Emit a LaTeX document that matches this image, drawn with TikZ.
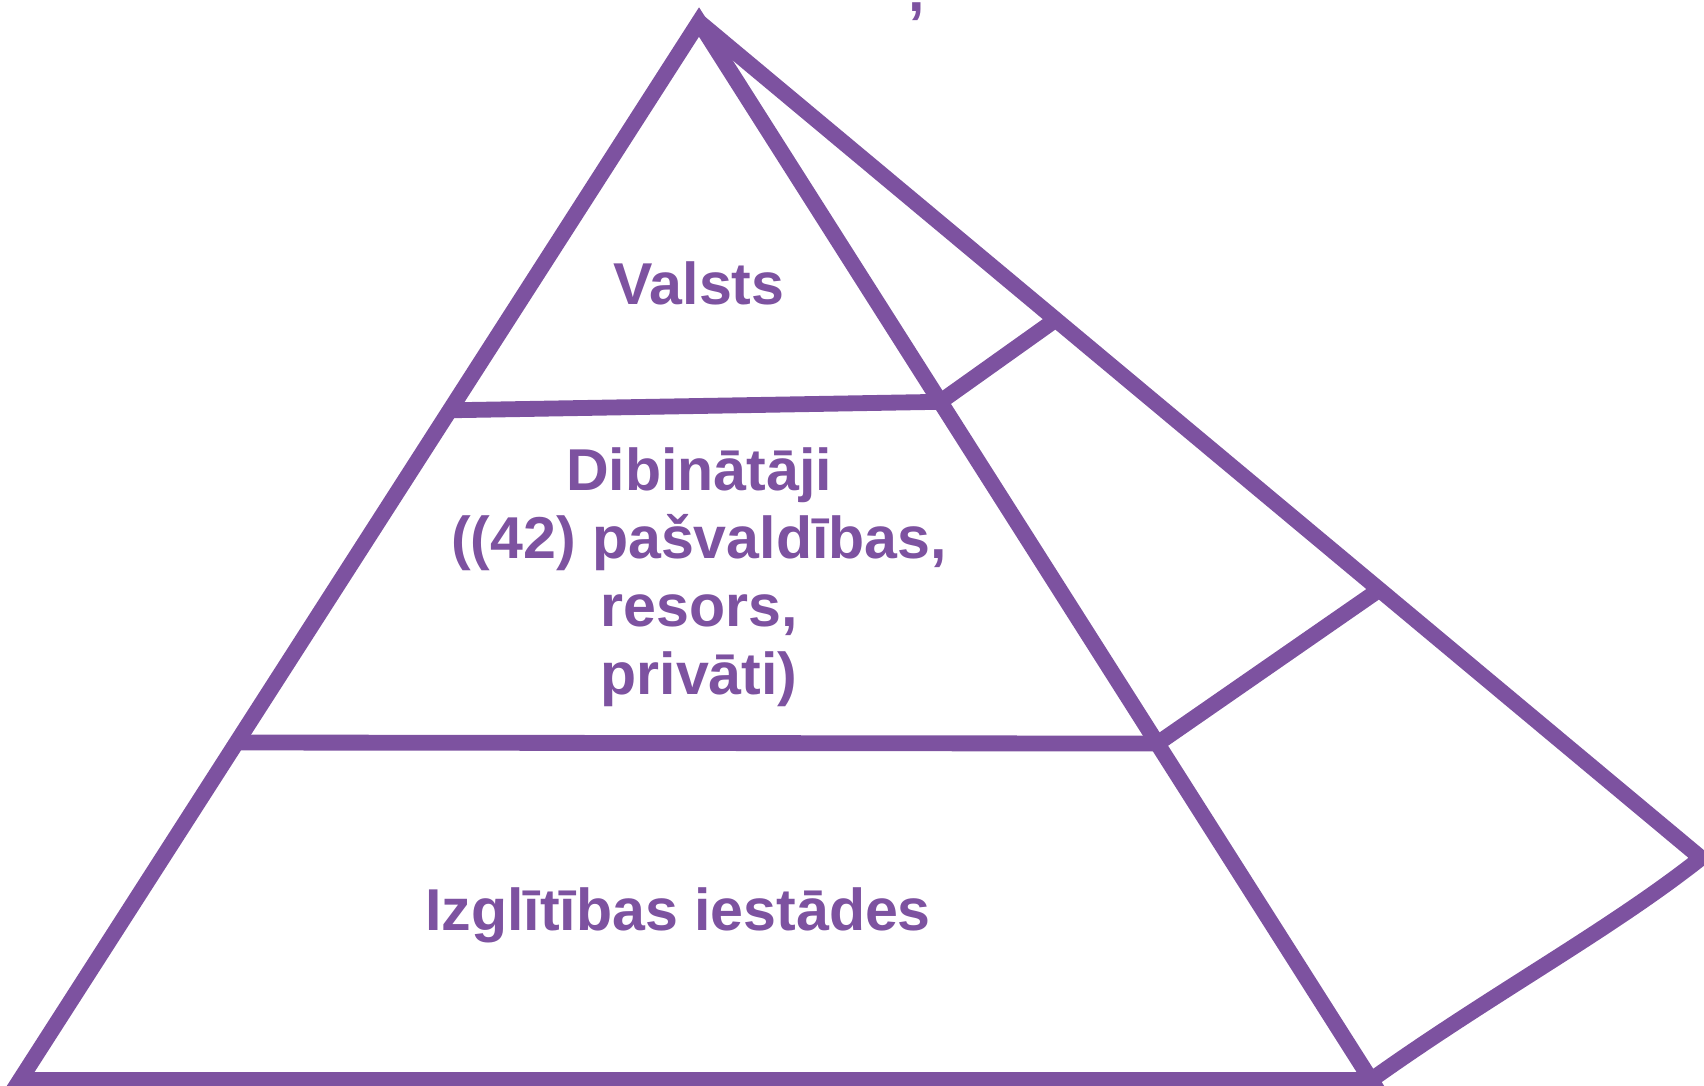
\documentclass[tikz,border=0pt]{standalone}
\usepackage{fontspec}
\setmainfont{Liberation Sans}
\usetikzlibrary{calc}
\definecolor{pyrpurple}{RGB}{125,82,160}
\tikzstyle{side} = [line width = 4.5pt, draw = pyrpurple, line join = miter]
\tikzstyle{tiertext} = [text = pyrpurple, inner sep = 0pt, align = center, font = \fontsize{16.8}{19.3}\selectfont\bfseries]

\begin{document}
\begin{tikzpicture}[x = 0.01cm, y = -0.01cm]
    \useasboundingbox (0,0) rectangle (1704,1085);

    % corners of the pyramid
    \coordinate(apex) at (699,22);
    \coordinate(bl) at (20,1080);
    \coordinate(br) at (1371,1080);
    \coordinate(back) at (1701,858);

    % points where the tiers meet the edges
    \coordinate(l1) at ($(apex)!0.367!(bl)$);
    \coordinate(r1) at ($(apex)!0.359!(br)$);
    \coordinate(b1) at ($(apex)!0.356!(back)$);
    \coordinate(l2) at ($(apex)!0.681!(bl)$);
    \coordinate(r2) at ($(apex)!0.682!(br)$);
    \coordinate(b2) at ($(apex)!0.679!(back)$);

    \node(comma1)[tiertext, anchor = base] at (917,12){,};
    \node(valsts)[tiertext, anchor = base] at (699,304){Valsts};
    \node(dibin)[tiertext] at (699,577){Dibinātāji\\((42) pašvaldības,\\resors,\\privāti)};
    \node(izgl)[tiertext, anchor = base] at (678,930){Izglītības iestādes};

    \draw[side](bl)--(apex)--(br)--cycle;
    \draw[side](apex)--(back) .. controls (1610,930) and (1490,995) .. (br);
    \draw[side](l1)--(r1)--(b1);
    \draw[side](l2)--(r2)--(b2);
\end{tikzpicture}
\end{document}
